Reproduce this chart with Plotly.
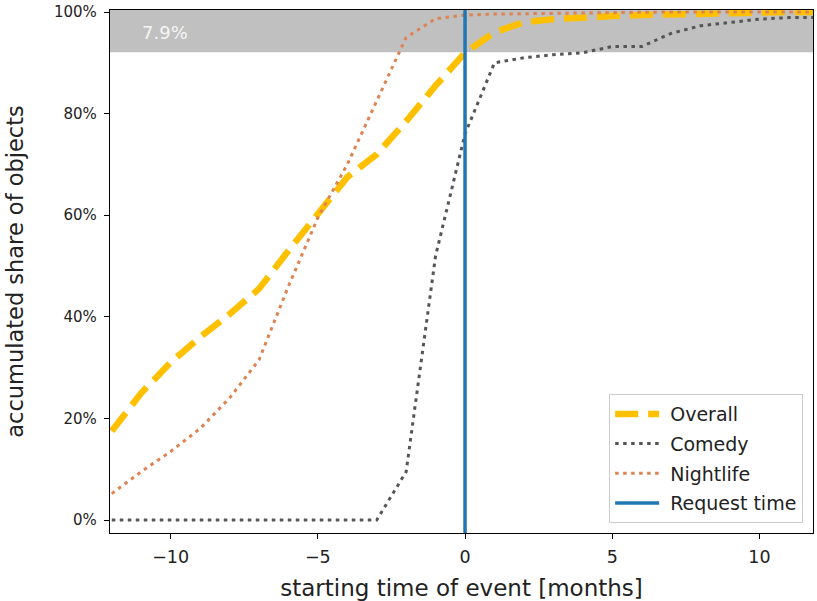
import plotly.graph_objects as go

months = list(range(-12, 13))
overall = [17.5, 25, 31, 36, 40.5, 45.5, 53, 60, 67.5, 72, 78.5, 85.5, 92,
           96, 98, 98.6, 99.0, 99.2, 99.4, 99.6, 99.7, 99.8, 99.9, 100, 100]
comedy = [0, 0, 0, 0, 0, 0, 0, 0, 0, 0, 9.5, 52, 76,
          90, 91, 91.6, 92, 93.2, 93.2, 95.8, 97.3, 98, 98.6, 98.9, 98.9]
nightlife = [5.2, 9.5, 13.5, 18, 24, 31.5, 46, 59.5, 70, 82.5, 95, 98.7, 99.4,
             99.6, 99.7, 99.8, 99.85, 99.9, 99.95, 100, 100, 100, 100, 100, 100]
series_names = ["Overall", "Comedy", "Nightlife", "Request time"]
request_time = 0
band_share = 7.9
band_label = "7.9%"
band_label_x = -10.2

x_range = [-12.06, 11.82]
y_range = [-2.56, 100.4]
y_ticks = [0, 20, 40, 60, 80, 100]
x_ticks = [-10, -5, 0, 5, 10]

FONT = "DejaVu Sans"
NB = "\u00a0"

fig = go.Figure()
fig.add_trace(go.Scatter(x=months, y=overall, mode="lines", name=NB + series_names[0],
                         legendgroup="a",
                         line=dict(color="#FFC000", width=6.5, dash="23px,10px")))
fig.add_trace(go.Scatter(x=months, y=comedy, mode="lines", name=NB + series_names[1],
                         legendgroup="b",
                         line=dict(color="#555555", width=3, dash="3.5px,4.5px")))
fig.add_trace(go.Scatter(x=months, y=nightlife, mode="lines", name=NB + series_names[2],
                         legendgroup="c",
                         line=dict(color="#DD8452", width=3, dash="3.5px,4.5px")))
fig.add_trace(go.Scatter(x=[request_time, request_time], y=[y_range[0] - 10, y_range[1] + 10],
                         mode="lines", name=NB + series_names[3], legendgroup="d",
                         line=dict(color="#1F77B4", width=3.5)))

fig.add_shape(type="rect", xref="x domain", yref="y", x0=0, x1=1,
              y0=100 - band_share, y1=y_range[1], fillcolor="#C0C0C0",
              line=dict(width=0), layer="below")
fig.add_annotation(x=band_label_x, y=100 - band_share / 2, text=band_label,
                   showarrow=False, font=dict(family=FONT, size=18, color="#F5F5F5"))

fig.update_layout(
    width=817, height=601,
    margin=dict(l=110, r=4, t=10, b=68),
    paper_bgcolor="white", plot_bgcolor="white",
    font=dict(family=FONT, size=15, color="#222"),
    showlegend=True,
    legend=dict(x=0.986, y=0.019, xanchor="right", yanchor="bottom",
                bgcolor="rgba(255,255,255,0.85)", bordercolor="#CCCCCC", borderwidth=1,
                font=dict(family=FONT, size=19, color="#222"),
                tracegroupgap=2, itemwidth=44, traceorder="grouped"),
)
fig.update_xaxes(range=x_range, tickvals=x_ticks, automargin=False,
                 ticktext=[("\u2212" + str(abs(v))) if v < 0 else str(v) for v in x_ticks],
                 showgrid=False, zeroline=False, showline=True, linecolor="black",
                 linewidth=1.3, mirror=True, ticks="outside", ticklen=5, tickwidth=1,
                 tickcolor="black", tickfont=dict(size=17.5, color="#222"),
                 ticklabelstandoff=3,
                 title=dict(text="starting time of event [months]", standoff=16,
                            font=dict(size=23, color="#222")))
fig.update_yaxes(range=y_range, tickvals=y_ticks, ticktext=[f"{v}%" for v in y_ticks],
                 automargin=False,
                 showgrid=False, zeroline=False, showline=True, linecolor="black",
                 linewidth=1.3, mirror=True, ticks="outside", ticklen=5, tickwidth=1,
                 tickcolor="black", tickfont=dict(size=15, color="#222"),
                 ticklabelstandoff=4,
                 title=dict(text="accumulated share of objects", standoff=24,
                            font=dict(size=22.5, color="#222")))

fig.write_html("out.html")
